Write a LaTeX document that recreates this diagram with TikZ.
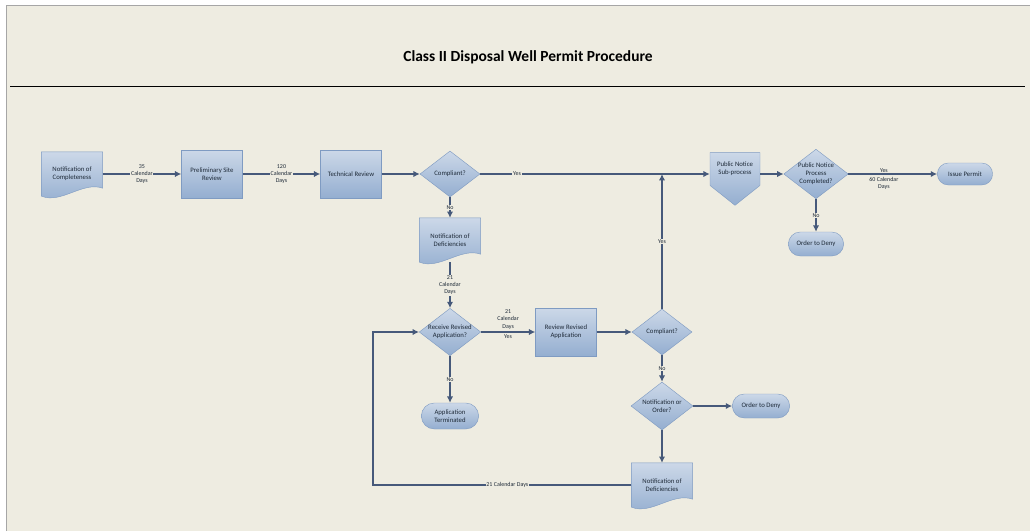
\documentclass[tikz,border=0pt]{standalone}
\usepackage{fontspec}
\setmainfont{Carlito}
\usetikzlibrary{shapes.geometric, shapes.misc, shapes.symbols}
\usetikzlibrary{arrows.meta, positioning, backgrounds}
\definecolor{paper}{HTML}{EEECE1}
\definecolor{frame}{HTML}{A6A6A6}
\definecolor{nodetop}{HTML}{CCD8E8}
\definecolor{nodebot}{HTML}{94AED0}
\definecolor{nodeedge}{HTML}{7F9BC2}
\definecolor{flow}{HTML}{46597A}
\definecolor{ink}{HTML}{1E2A38}
\pgfdeclarelayer{paper}
\pgfsetlayers{paper,background,main}
\newcommand{\nodefont}{\fontsize{9.6}{11.5}\selectfont}
\newcommand{\lblfont}{\fontsize{8.5}{10.5}\selectfont}
\tikzset{proc-node/.style={draw=nodeedge, line width=0.6pt, top color=nodetop, bottom color=nodebot, minimum width=3.05cm, minimum height=2.4cm, align=center, text=ink, font=\nodefont}}
\tikzset{dec-node/.style={proc-node, diamond, aspect=1.3, inner sep=0pt, minimum width=3cm, minimum height=2.3cm}}
\tikzset{term-node/.style={proc-node, rounded rectangle, minimum height=1.2cm}}
\tikzset{doc-node/.style={align=center, text=ink, font=\nodefont, minimum width=3.05cm, minimum height=2.2cm, inner sep=0pt}}
\tikzset{doc-shape/.style={draw=nodeedge, line width=0.6pt, top color=nodetop, bottom color=nodebot}}
\tikzset{page-node/.style={proc-node, signal, signal to=south, signal pointer angle=103, minimum width=2.5cm, minimum height=2.45cm}}
\tikzset{flow-line/.style={draw=flow, line width=2.4pt, ->}}
\tikzset{flow-label/.style={font=\lblfont, text=ink, fill=paper, inner sep=1pt, align=center}}
\tikzset{>={Latex[length=9pt,width=9pt]}}
\newcommand{\docshape}[1]{\path[doc-shape] (#1.north west) -- (#1.north east) -- ([yshift=0.4cm]#1.south east) .. controls ([xshift=-1cm,yshift=0.75cm]#1.south east) and ([xshift=1cm,yshift=-0.4cm]#1.south west) .. (#1.south west) -- cycle;}

\begin{document}
\begin{tikzpicture}[y=-1cm]
    \useasboundingbox (0,0) rectangle (51.6,26.55);
    \begin{pgfonlayer}{paper}
        \fill[white] (0,0) rectangle (51.6,26.55);
        \fill[paper] (0.3,0.28) rectangle (51.5,26.55);
        \draw[frame, line width=1.2pt] (0.3,26.55) -- (0.3,0.28) -- (51.5,0.28);
    \end{pgfonlayer}

    \node[font=\fontsize{22}{25}\selectfont\bfseries, text=black] (title) at (26.4,2.85) {Class II Disposal Well Permit Procedure};
    \coordinate (rule-left) at (0.5,4.3);
    \coordinate (rule-right) at (51.25,4.3);
    \draw[line width=1.4pt] (rule-left) -- (rule-right);

    % top row
    \node[doc-node] (completeness) at (3.6,8.7) {Notification of\\Completeness};
    \node[proc-node] (site-review) at (10.6,8.7) {Preliminary Site\\Review};
    \node[proc-node] (tech-review) at (17.55,8.7) {Technical Review};
    \node[dec-node] (compliant) at (22.5,8.7) {Compliant?};
    \node[page-node] (public-notice) at (36.75,8.45) {Public Notice\\Sub-process};
    \node[dec-node, minimum width=2.9cm, minimum height=2.25cm] (notice-done) at (40.8,8.7) {Public Notice\\Process\\Completed?};
    \node[term-node, minimum width=3cm, minimum height=1.1cm] (issue) at (48.25,8.7) {Issue Permit};
    \node[term-node, minimum width=3cm] (deny-top) at (40.8,12.2) {Order to Deny};

    % revision loop
    \node[doc-node] (deficiencies) at (22.5,12.0) {Notification of\\Deficiencies};
    \node[dec-node] (receive) at (22.5,16.6) {Receive Revised\\Application?};
    \node[proc-node] (revised-review) at (28.3,16.6) {Review Revised\\Application};
    \node[dec-node] (compliant-2) at (33.1,16.6) {Compliant?};
    \node[term-node, minimum width=3.1cm, minimum height=1.3cm] (terminated) at (22.5,20.8) {Application\\Terminated};
    \node[dec-node, minimum width=3.1cm, minimum height=2.4cm] (notice-order) at (33.1,20.3) {Notification or\\Order?};
    \node[term-node, minimum width=3.1cm] (deny-bottom) at (38.05,20.3) {Order to Deny};
    \node[doc-node] (deficiencies-2) at (33.1,24.25) {Notification of\\Deficiencies};
    \coordinate (loop-corner) at (18.65,16.6);

    \begin{scope}[on background layer]
        \docshape{completeness}
        \docshape{deficiencies}
        \docshape{deficiencies-2}
    \end{scope}

    \draw[flow-line] (completeness) -- (site-review) node[flow-label, midway] {35\\Calendar\\Days};
    \draw[flow-line] (site-review) -- (tech-review) node[flow-label, midway] {120\\Calendar\\Days};
    \draw[flow-line] (tech-review) -- (compliant);
    \draw[flow-line] (compliant) -- (compliant -| public-notice.west) node[flow-label, pos=0.16] {Yes};
    \draw[flow-line] (compliant) -- (deficiencies) node[flow-label, midway] {No};
    \draw[flow-line] (deficiencies.south) -- (receive) node[flow-label, midway] {21\\Calendar\\Days};
    \draw[flow-line] (receive) -- (revised-review)
        node[flow-label, midway, above=2pt] {21\\Calendar\\Days}
        node[flow-label, midway, below=2pt] {Yes};
    \draw[flow-line] (revised-review) -- (compliant-2);
    \draw[flow-line] (compliant-2) -- (compliant-2 |- compliant) node[flow-label, midway] {Yes};
    \draw[flow-line] (compliant-2) -- (notice-order) node[flow-label, midway] {No};
    \draw[flow-line] (notice-order) -- (deny-bottom);
    \draw[flow-line] (notice-order) -- (deficiencies-2);
    \draw[flow-line] (deficiencies-2.west) -| (loop-corner) node[flow-label, pos=0.24] {21 Calendar Days} -- (receive);
    \draw[flow-line] (receive) -- (terminated) node[flow-label, midway] {No};
    \draw[flow-line] (notice-done -| public-notice.east) -- (notice-done);
    \draw[flow-line] (notice-done) -- (issue)
        node[flow-label, pos=0.4, above=0pt, fill=none] {Yes}
        node[flow-label, pos=0.4, below=2pt] {60 Calendar\\Days};
    \draw[flow-line] (notice-done) -- (deny-top) node[flow-label, midway] {No};
\end{tikzpicture}
\end{document}
